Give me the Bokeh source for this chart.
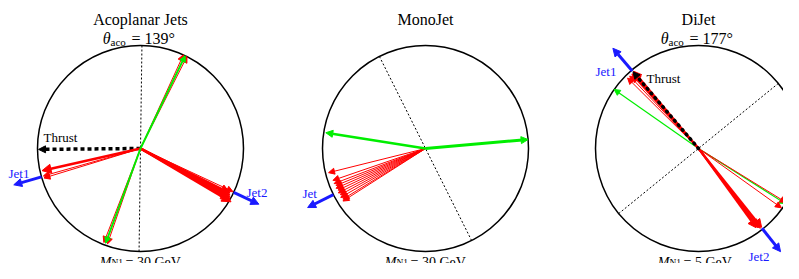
import numpy as np
from bokeh.plotting import figure
from bokeh.models import Range1d, Arrow, NormalHead, ColumnDataSource
from bokeh.core.properties import value
from bokeh.embed import file_html
from bokeh.resources import INLINE

# ---------------- data (angles in degrees, counter-clockwise from +x; lengths in circle radii) ----------------
titles = ["Acoplanar Jets", "MonoJet", "DiJet"]
aco_values = ["139°", "", "177°"]
mass_values = ["30", "30", "5"]

# Panel 1: Acoplanar jets
p1_axis_angle = 89.2
p1_thrust_angle = [180.5]
p1_thrust_len = [0.99]
p1_green_ang = [64.3, 249.8]
p1_green_len = [1.0, 0.98]
p1_red_thin_ang = [63.2, 65.4, 248.7, 250.9, 195.8, 197.0, -25.0]
p1_red_thin_len = [1.0, 1.0, 0.98, 0.98, 0.98, 0.98, 0.99]
p1_red_thick_ang = [192.7, -26.5, -27.5, -28.5, -29.5, -30.5]
p1_red_thick_len = [0.98, 0.97, 0.98, 0.99, 1.0, 1.02]
p1_jet_ang = [196.0, -25.2]
p1_jet_labels = ["Jet1", "Jet2"]

# Panel 2: MonoJet
p2_axis_angle = 116.6
p2_green_ang = [5.0, 171.0]
p2_green_len = [1.0, 0.98]
p2_green_width = [3.0, 2.5]
p2_red_ang = [194.0, 199.0, 201.0, 202.5, 204.0, 205.5, 207.0, 208.5, 210.0, 211.5, 212.5]
p2_red_len = [0.97, 0.95, 0.95, 0.94, 0.95, 0.94, 0.95, 0.94, 0.95, 0.94, 0.95]
p2_jet_ang = [206.6]
p2_jet_labels = ["Jet"]

# Panel 3: DiJet
p3_axis_angle = 39.2
p3_thrust_angle = [130.5]
p3_thrust_len = [0.98]
p3_green_ang = [145.0, -32.4]
p3_green_len = [1.0, 1.0]
p3_red_thin_ang = [133.5, 135.2, -31.6, -35.6]
p3_red_thin_len = [0.97, 0.97, 1.0, 0.99]
p3_red_thick_ang = [130.0, 131.0, 131.8, -51.3, -52.2, -53.1, -54.0]
p3_red_thick_len = [0.98, 0.97, 0.97, 0.98, 0.98, 0.96, 0.95]
p3_jet_ang = [130.5, -51.5]
p3_jet_labels = ["Jet1", "Jet2"]

# ---------------- layout ----------------
W, H = 783, 263
PAGE_H = 279
R = 103.0
CX = [140.0, 425.0, 698.0]
CY = PAGE_H - 148.0
FONT = value("Liberation Serif")
RED, GREEN, BLUE = "#ff0000", "#00ee00", "#1a1aff"

p = figure(width=W, height=H, x_range=Range1d(0, W), y_range=Range1d(PAGE_H - H, PAGE_H),
           output_backend="svg", toolbar_location=None, min_border=0)
p.axis.visible = False
p.grid.visible = False
p.outline_line_color = None
p.background_fill_color = "white"


def sy(y_screen):
    return PAGE_H - y_screen


def arrows(cx, angles, lengths, color, width, head, starts=None, dash="solid", cap="butt"):
    a = np.radians(np.asarray(angles, dtype=float))
    L = np.asarray(lengths, dtype=float) * R
    r0 = np.zeros_like(L) if starts is None else np.asarray(starts, dtype=float) * R
    src = ColumnDataSource(dict(x0=cx + r0 * np.cos(a), y0=CY + r0 * np.sin(a),
                                x1=cx + L * np.cos(a), y1=CY + L * np.sin(a)))
    hd = NormalHead(size=head, fill_color=color, line_color=color, line_width=1)
    p.add_layout(Arrow(end=hd, x_start="x0", y_start="y0", x_end="x1", y_end="y1", source=src,
                       line_color=color, line_width=width, line_dash=dash, line_cap=cap))


def axis_line(cx, ang):
    a = np.radians(ang)
    p.line(x=[cx - R * np.cos(a), cx + R * np.cos(a)], y=[CY - R * np.sin(a), CY + R * np.sin(a)],
           line_color="black", line_width=1, line_dash="2 2")


def txt(x, y, s, size, color="black", style="normal", align="left"):
    p.text(x=[x], y=[y], text=[s], text_font=FONT, text_font_size=f"{size}px", text_color=color,
           text_font_style=style, text_align=align, text_baseline="alphabetic")


# circles
p.circle(x=CX, y=[CY] * 3, radius=R, fill_color=None, line_color="black", line_width=1.5)

# axes (dotted)
axis_line(CX[0], p1_axis_angle)
axis_line(CX[1], p2_axis_angle)
axis_line(CX[2], p3_axis_angle)

# ---- panel 1
arrows(CX[0], p1_thrust_angle, p1_thrust_len, "black", 3.5, 7, dash="4 3")
arrows(CX[0], p1_red_thin_ang, p1_red_thin_len, RED, 1, 6)
arrows(CX[0], p1_red_thick_ang, p1_red_thick_len, RED, 2.5, 9)
arrows(CX[0], p1_green_ang, p1_green_len, GREEN, 2, 6)
arrows(CX[0], p1_jet_ang, [1.28, 1.27], BLUE, 3, 8, starts=[1.0, 1.0])

# ---- panel 2
arrows(CX[1], p2_red_ang, p2_red_len, RED, 1, 6)
for ang, ln, w in zip(p2_green_ang, p2_green_len, p2_green_width):
    arrows(CX[1], [ang], [ln], GREEN, w, 7)
arrows(CX[1], p2_jet_ang, [1.28], BLUE, 3, 8, starts=[1.0])

# ---- panel 3
arrows(CX[2], p3_green_ang, p3_green_len, GREEN, 1.2, 6)
arrows(CX[2], p3_red_thin_ang, p3_red_thin_len, RED, 1, 6)
arrows(CX[2], p3_red_thick_ang, p3_red_thick_len, RED, 2, 8)
arrows(CX[2], p3_thrust_angle, p3_thrust_len, "black", 3.5, 7, dash="1 5", cap="round")
arrows(CX[2], p3_jet_ang, [1.28, 1.28], BLUE, 3, 8, starts=[0.99, 0.99])

# ---- labels
txt(8, sy(173), p1_jet_labels[0], 13, BLUE)
txt(246, sy(192), p1_jet_labels[1], 13, BLUE)
txt(43, sy(137), "Thrust", 13)
txt(302, sy(193), p2_jet_labels[0], 13, BLUE)
txt(595, sy(71), p3_jet_labels[0], 13, BLUE)
txt(748, sy(256), p3_jet_labels[1], 13, BLUE)
txt(646, sy(78), "Thrust", 13)

for cx, t, aco, m in zip(CX, titles, aco_values, mass_values):
    txt(cx, sy(19), t, 16, align="center")
    if aco:
        txt(cx - 30, sy(38), "θ", 16, style="italic", align="right")
        txt(cx - 30, sy(41), "aco", 11)
        txt(cx - 9, sy(38), "= " + aco, 16)
    # mass line (squeezed into the strip below the circle)
    txt(cx - 29, sy(261.5), "M", 14, style="italic", align="right")
    txt(cx - 29, sy(262.5), "N1", 9.5)
    txt(cx - 15, sy(261.5), "= " + m + " GeV", 14)

open("out.html", "w").write(file_html(p, INLINE))
